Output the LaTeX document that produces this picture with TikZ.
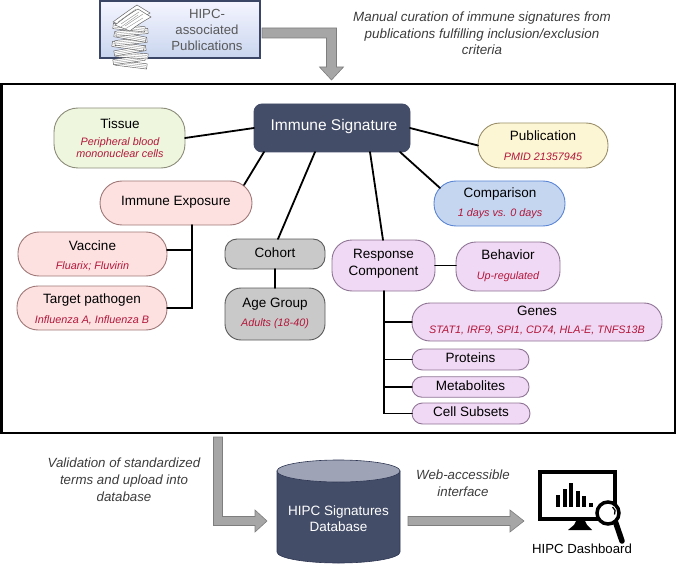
\documentclass[tikz,border=0pt]{standalone}
\usepackage{fontspec}
\setmainfont{Liberation Sans}
\usetikzlibrary{calc}
\definecolor{redtxt}{HTML}{B3163A}
\definecolor{navy}{HTML}{434D68}
\definecolor{tisfill}{HTML}{EEF6DE}
\definecolor{tisdraw}{HTML}{8C8C7A}
\definecolor{pubfill}{HTML}{FDF6D5}
\definecolor{pubdraw}{HTML}{9A8F6A}
\definecolor{compfill}{HTML}{C4D6F0}
\definecolor{compdraw}{HTML}{5A85D5}
\definecolor{iefill}{HTML}{FDE1E1}
\definecolor{iedraw}{HTML}{A07878}
\definecolor{cohfill}{HTML}{C9C9C9}
\definecolor{cohdraw}{HTML}{5A5A5A}
\definecolor{rcfill}{HTML}{F0D9F4}
\definecolor{rcdraw}{HTML}{8F7595}
\definecolor{arrfill}{HTML}{A6A6A6}
\definecolor{arrdraw}{HTML}{7E7E7E}
\definecolor{dbtop}{HTML}{9EA4B6}
\definecolor{dbdraw}{HTML}{2E3652}
\definecolor{notegray}{HTML}{3C3C3C}
\definecolor{pubtext}{HTML}{595959}
\definecolor{pubboxdraw}{HTML}{3B4566}
\newcommand\fmain{\fontsize{13.5pt}{16pt}\selectfont}
\newcommand\fsub{\fontsize{10.8pt}{13pt}\selectfont\itshape}
\newcommand\fbig{\fontsize{15.5pt}{18pt}\selectfont}
\newcommand\fnote{\fontsize{13.4pt}{16.5pt}\selectfont\itshape}
\newcommand\fpub{\fontsize{13.2pt}{16pt}\selectfont}
\tikzset{
  shp/.style={draw, rectangle, line width=0.9pt, inner sep=0pt, outer sep=0pt},
  lab/.style={inner sep=0pt, font=\fmain, text height=0.6em, text depth=0pt},
  sl/.style={inner sep=0pt, font=\fsub, text=redtxt, text height=0.6em, text depth=0pt},
  conn/.style={line width=1.8pt, line cap=round},
  fatarrow/.style={fill=arrfill, draw=arrdraw, line width=0.6pt, line join=miter},
  note/.style={inner sep=0pt, font=\fnote, text=notegray, align=center},
  sheet/.style={fill=white, draw=black!65, line width=0.45pt},
}
\begin{document}
\begin{tikzpicture}[x=1pt,y=-1pt]
\useasboundingbox (0,0) rectangle (677,564);

% ---------- top: publications box ----------
\node[draw=pubboxdraw, line width=2pt, inner sep=0pt, outer sep=0pt,
      top color=blue!4!white, bottom color={rgb,255:red,200;green,213;blue,238},
      minimum width=160pt, minimum height=57.5pt] (pubs) at (180,29.75) {};
\node[inner sep=0pt, font=\fpub, text=pubtext, align=center] (pubs-t) at (207,29.5)
  {HIPC-\\associated\\Publications};

% paper stack
\foreach \i/\dx/\ang in {0/1/-7,1/-1/8,2/2/-4,3/0/10,4/-2/-8,5/1/6,6/0/-10,7/2/5,8/-1/-6}{
  \pgfmathsetmacro{\yy}{64.5-\i*4.6}
  \begin{scope}[shift={(130+\dx,\yy)}, rotate=\ang]
    \draw[sheet] (-16pt,-2.6pt) rectangle (16pt,2.6pt);
    \draw[black!50, line width=0.3pt] (-15pt,-0.9pt) -- (15pt,-0.9pt) (-15pt,0.9pt) -- (15pt,0.9pt);
  \end{scope}
}
\draw[sheet] (113,22) .. controls (121,16) and (128,11) .. (137,5) -- (150,13)
  .. controls (143,17) and (136,22) .. (129,28) -- cycle;
\draw[sheet] (115,25) .. controls (123,19) and (129,14) .. (138,9) -- (151,17)
  .. controls (144,21) and (137,25) .. (130,31) -- cycle;
\draw[black!50, line width=0.3pt] (118,22) -- (136,9) (121,24) -- (139,12) (125,26) -- (143,14)
  (121,27) -- (138,15) (125,29) -- (143,18);

% top fat arrow
\draw[fatarrow] (262,28) -- (336.5,28) -- (336.5,67) -- (343.5,67) -- (331.5,80)
  -- (319.5,67) -- (326.5,67) -- (326.5,38) -- (262,38) -- cycle;

\node[note] (cur) at (482,33.5) {Manual curation of immune signatures from\\publications fulfilling inclusion/exclusion\\criteria};

% ---------- main frame ----------
\node[draw, line width=2.5pt, inner sep=0pt, outer sep=0pt,
      minimum width=673.5pt, minimum height=349pt] (frame) at (338.25,258.5) {};

% ---------- nodes ----------
\node[shp, fill=navy, draw=navy, rounded corners=8pt, minimum width=156pt, minimum height=48pt] (is) at (332,128) {};
\node[lab, font=\fbig, text=white] (is-l) at (334,128) {Immune Signature};

\node[shp, fill=tisfill, draw=tisdraw, rounded corners=24pt, minimum width=131pt, minimum height=60pt] (tis) at (119.5,138) {};
\node[lab] (tis-l) at (120,126) {Tissue};
\node[sl] (tis-s1) at (120,143) {Peripheral blood};
\node[sl] (tis-s2) at (120,155) {mononuclear cells};

\node[shp, fill=pubfill, draw=pubdraw, rounded corners=22pt, minimum width=130pt, minimum height=45pt] (pub) at (543,145.5) {};
\node[lab] (pub-l) at (543,138) {Publication};
\node[sl] (pub-s) at (543,158) {PMID 21357945};

\node[shp, fill=compfill, draw=compdraw, rounded corners=22pt, minimum width=131pt, minimum height=45pt] (comp) at (499.5,203.5) {};
\node[lab] (comp-l) at (500,195) {Comparison};
\node[sl] (comp-s) at (500,214) {1 days vs. 0 days};

\node[shp, fill=iefill, draw=iedraw, rounded corners=22pt, minimum width=152pt, minimum height=44pt] (ie) at (176,203) {};
\node[lab] (ie-l) at (176,203) {Immune Exposure};

\node[shp, fill=iefill, draw=iedraw, rounded corners=21pt, minimum width=149pt, minimum height=44pt] (vac) at (92.5,254) {};
\node[lab] (vac-l) at (92.5,247) {Vaccine};
\node[sl] (vac-s) at (92.5,266) {Fluarix; Fluvirin};

\node[shp, fill=iefill, draw=iedraw, rounded corners=21pt, minimum width=150pt, minimum height=44pt] (tp) at (92,308) {};
\node[lab] (tp-l) at (92,300) {Target pathogen};
\node[sl] (tp-s) at (92,320) {Influenza A, Influenza B};

\node[shp, fill=cohfill, draw=cohdraw, rounded corners=12pt, minimum width=100pt, minimum height=30pt] (coh) at (275,254) {};
\node[lab] (coh-l) at (275,254) {Cohort};

\node[shp, fill=cohfill, draw=cohdraw, rounded corners=16pt, minimum width=100pt, minimum height=52pt] (age) at (275,314) {};
\node[lab] (age-l) at (275,304) {Age Group};
\node[sl] (age-s) at (275,323) {Adults (18-40)};

\node[shp, fill=rcfill, draw=rcdraw, rounded corners=20pt, minimum width=103pt, minimum height=51pt] (rc) at (383.5,265.5) {};
\node[lab] (rc-l1) at (383.5,255) {Response};
\node[lab] (rc-l2) at (383.5,272) {Component};

\node[shp, fill=rcfill, draw=rcdraw, rounded corners=20pt, minimum width=104pt, minimum height=49pt] (beh) at (508,266.5) {};
\node[lab] (beh-l) at (508,256) {Behavior};
\node[sl] (beh-s) at (508,276) {Up-regulated};

\node[shp, fill=rcfill, draw=rcdraw, rounded corners=18pt, minimum width=250pt, minimum height=38pt] (gen) at (537,322) {};
\node[lab] (gen-l) at (537,312) {Genes};
\node[sl] (gen-s) at (537,330) {STAT1, IRF9, SPI1, CD74, HLA-E, TNFS13B};

\node[shp, fill=rcfill, draw=rcdraw, rounded corners=10.5pt, minimum width=117pt, minimum height=21pt] (prot) at (470.5,359.5) {};
\node[lab] (prot-l) at (470.5,359.5) {Proteins};

\node[shp, fill=rcfill, draw=rcdraw, rounded corners=10pt, minimum width=117pt, minimum height=20.5pt] (met) at (470.5,387) {};
\node[lab] (met-l) at (470.5,387) {Metabolites};

\node[shp, fill=rcfill, draw=rcdraw, rounded corners=10.5pt, minimum width=118pt, minimum height=21pt] (cs) at (471,413.5) {};
\node[lab] (cs-l) at (471,413.5) {Cell Subsets};

% ---------- connectors ----------
\draw[conn] (tis.east) -- (is.west);
\draw[conn] (is.east) -- (pub.west);
\draw[conn] ([xshift=-10pt]is.south east) -- ([shift={(6pt,-7pt)}]comp.north west);
\draw[conn] ([xshift=10pt]is.south west) -- ([shift={(-8pt,-4pt)}]ie.north east);
\draw[conn] ([xshift=61pt]is.south west) -- ([xshift=3pt]coh.north);
\draw[conn] ([xshift=38pt]is.south) -- ([xshift=-0.5pt]rc.north);
\draw[conn] (coh.south) -- (age.north);
\draw[conn] (rc.east) -- (rc.east -| beh.west);
\coordinate (iebr) at ([xshift=16pt]ie.south);
\draw[conn] (iebr) |- (tp.east);
\draw[conn] ([yshift=4pt]vac.east) -- ([yshift=4pt]vac.east -| iebr);
\coordinate (rcb) at ([xshift=0.5pt]rc.south);
\draw[conn] (rcb) |- (cs.west);
\draw[conn] (rcb |- gen.west) -- (gen.west);
\draw[conn] (rcb |- prot.west) -- (prot.west);
\draw[conn] (rcb |- met.west) -- (met.west);

% ---------- bottom ----------
\node[note, font=\fontsize{13.3pt}{17pt}\selectfont\itshape] (val) at (124,480)
  {Validation of standardized\\terms and upload into\\database};

\draw[fatarrow] (213.5,437) -- (222.5,437) -- (222.5,516.5) -- (255,516.5) -- (255,510)
  -- (267,521) -- (255,532) -- (255,525.5) -- (213.5,525.5) -- cycle;

% database cylinder
\fill[navy, draw=dbdraw, line width=0.6pt] (277,471) -- (277,552)
  arc[start angle=180, end angle=360, x radius=61.5pt, y radius=11pt] -- (400,471) -- cycle;
\draw[fill=dbtop, draw=dbdraw, line width=0.6pt] (338.5,471) ellipse [x radius=61.5pt, y radius=11pt];
\node[inner sep=0pt, font=\fmain, text=white, align=center] (db) at (338.5,518.5)
  {HIPC Signatures\\Database};

\node[note, font=\fontsize{13.3pt}{17pt}\selectfont\itshape] (web) at (463,483)
  {Web-accessible\\interface};

\draw[fatarrow] (408,516.5) -- (510,516.5) -- (510,510) -- (524,521) -- (510,532)
  -- (510,525.5) -- (408,525.5) -- cycle;

% dashboard icon
\draw[line width=4pt, fill=white] (540,472) rectangle (615,519);
\fill (576,521) -- (585,521) -- (587,525) -- (592,530) -- (568,530) -- (574,525) -- cycle;
\foreach \x/\t in {556/495,562.5/489,569/483,575.5/491,582/496}{
  \fill (\x,507) rectangle (\x+4,\t);
}
\fill (588.5,502.5) rectangle (592.5,507);
\draw[line width=5.5pt, line cap=round] (615.5,522) -- (622,541);
\draw[line width=3.5pt, fill=white] (608,513) circle [radius=11pt];
\draw[line width=1.3pt] (612.5,507) arc[start angle=60, end angle=-30, radius=5.5pt];
\node[inner sep=0pt, font=\fpub] (dash) at (582,549) {HIPC Dashboard};
\end{tikzpicture}
\end{document}
